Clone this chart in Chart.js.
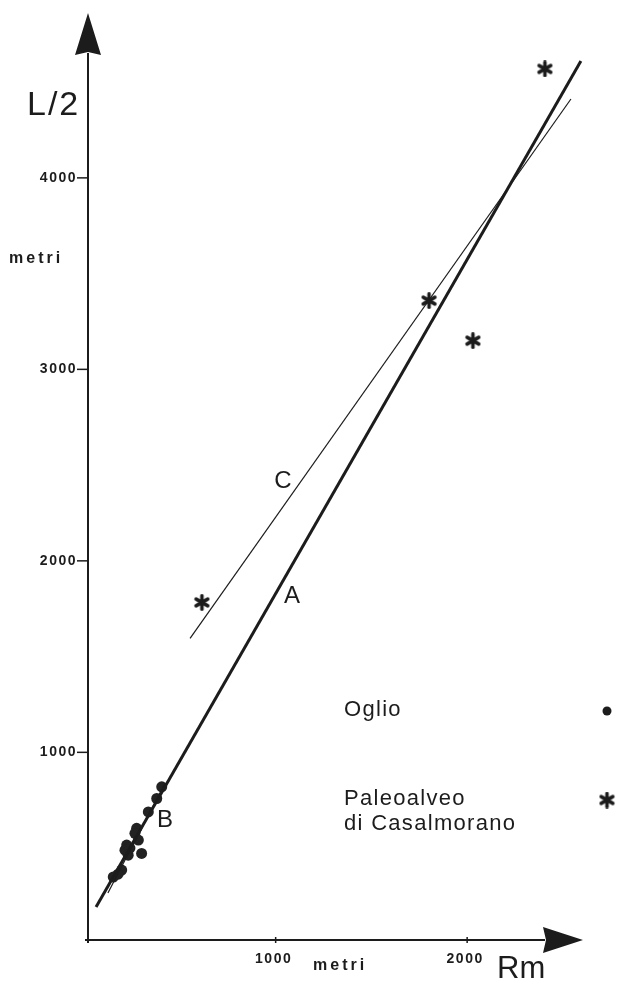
<!DOCTYPE html>
<html>
<head>
<meta charset="utf-8">
<script src="https://cdn.jsdelivr.net/npm/chart.js@4"></script>
<style>
  body { margin: 0; background: #fff; }
  #wrap { width: 618px; height: 981px; position: relative; }
</style>
</head>
<body>
<div id="wrap"><canvas id="rmChart"></canvas></div>
<script>
// Oglio: meander radius Rm vs half wavelength L/2 (metri)
var oglioRm = [405, 379, 335, 274, 265, 283, 222, 213, 230, 300, 239, 196, 177, 152];
var oglioL2 = [820, 759, 689, 603, 577, 542, 516, 489, 463, 472, 500, 385, 364, 349];

// Paleoalveo di Casalmorano
var paleoRm = [2406, 1801, 2030, 615];
var paleoL2 = [4569, 3359, 3150, 1783];

// fitted lines (end points)
var lineA_Rm = [62, 2594];
var lineA_L2 = [192, 4610];
var lineC_Rm = [553, 2542];
var lineC_L2 = [1595, 4412];
var lineB_Rm = [124, 422];
var lineB_L2 = [265, 839];

var xTicks = [1000, 2000];
var yTicks = [1000, 2000, 3000, 4000];

var ink = '#1c1c1c';

function pts(xs, ys) {
    return xs.map(function (x, i) { return { x: x, y: ys[i] }; });
}

// asterisk marker
function makeStar(size, lw) {
    var c = document.createElement('canvas');
    c.width = size; c.height = size;
    var g = c.getContext('2d');
    var r = size / 2 - lw / 2;
    g.strokeStyle = ink;
    g.lineWidth = lw;
    g.lineCap = 'round';
    g.translate(size / 2, size / 2);
    for (var k = 0; k < 3; k++) {
        var a = Math.PI / 2 + k * Math.PI / 3;
        g.beginPath();
        g.moveTo(Math.cos(a) * r, Math.sin(a) * r);
        g.lineTo(-Math.cos(a) * r, -Math.sin(a) * r);
        g.stroke();
    }
    return c;
}
var star = makeStar(17, 3.5);

var axesPlugin = {
    id: 'axesPlugin',
    afterDatasetsDraw: function (chart) {
        var ctx = chart.ctx;
        var xs = chart.scales.x, ys = chart.scales.y;
        var ox = xs.getPixelForValue(xs.min);
        var oy = ys.getPixelForValue(ys.min);
        var right = chart.chartArea.right, top = chart.chartArea.top;
        ctx.save();
        ctx.strokeStyle = ink;
        ctx.fillStyle = ink;
        ctx.lineWidth = 2;
        // axis lines
        ctx.beginPath();
        ctx.moveTo(ox, oy + 3); ctx.lineTo(ox, top + 40);
        ctx.moveTo(ox - 3, oy); ctx.lineTo(right - 38, oy);
        ctx.stroke();
        // arrow heads
        ctx.beginPath();
        ctx.moveTo(ox, top); ctx.lineTo(ox - 13, top + 42); ctx.lineTo(ox, top + 39); ctx.lineTo(ox + 13, top + 42);
        ctx.closePath(); ctx.fill();
        ctx.beginPath();
        ctx.moveTo(right, oy); ctx.lineTo(right - 40, oy - 13); ctx.lineTo(right - 37, oy); ctx.lineTo(right - 40, oy + 13);
        ctx.closePath(); ctx.fill();

        // ticks and labels
        ctx.lineWidth = 1.5;
        ctx.font = 'bold 14px "Liberation Sans", Arial, sans-serif';
        ctx.letterSpacing = '1.5px';
        ctx.textBaseline = 'middle';
        ctx.textAlign = 'right';
        yTicks.forEach(function (v) {
            var p = ys.getPixelForValue(v);
            ctx.beginPath(); ctx.moveTo(ox - 11, p); ctx.lineTo(ox, p); ctx.stroke();
            ctx.fillText(String(v), ox - 11, p);
        });
        ctx.textAlign = 'center';
        xTicks.forEach(function (v) {
            var p = xs.getPixelForValue(v);
            ctx.beginPath(); ctx.moveTo(p, oy - 3); ctx.lineTo(p, oy + 3); ctx.stroke();
            ctx.fillText(String(v), p - 2, oy + 19);
        });

        // axis units
        ctx.font = 'bold 16px "Liberation Sans", Arial, sans-serif';
        ctx.letterSpacing = '3px';
        ctx.textAlign = 'left';
        ctx.fillText('metri', 9, 259);
        ctx.fillText('metri', 313, 966);

        // axis titles
        ctx.font = '34px "Liberation Sans", Arial, sans-serif';
        ctx.letterSpacing = '2px';
        ctx.textBaseline = 'alphabetic';
        ctx.fillText('L/2', 27, 115);
        ctx.font = '31px "Liberation Sans", Arial, sans-serif';
        ctx.letterSpacing = '0px';
        ctx.fillText('Rm', 497, 978);

        // line labels, placed in data space
        ctx.font = '24px "Liberation Sans", Arial, sans-serif';
        ctx.textAlign = 'center';
        ctx.textBaseline = 'middle';
        ctx.fillText('C', xs.getPixelForValue(1038), ys.getPixelForValue(2414));
        ctx.fillText('A', xs.getPixelForValue(1085), ys.getPixelForValue(1814));
        ctx.fillText('B', xs.getPixelForValue(422), ys.getPixelForValue(646));

        // legend
        ctx.font = '22px "Liberation Sans", Arial, sans-serif';
        ctx.letterSpacing = '1.3px';
        ctx.textAlign = 'left';
        ctx.fillText('Oglio', 344, 710);
        ctx.fillText('Paleoalveo', 344, 799);
        ctx.fillText('di Casalmorano', 344, 824);
        ctx.beginPath(); ctx.arc(607, 711, 4.5, 0, Math.PI * 2); ctx.fill();
        ctx.drawImage(star, 607 - 8.5, 800 - 8.5);
        ctx.restore();
    }
};

var ctx = document.getElementById('rmChart').getContext('2d');
var chart = new Chart(ctx, {
    type: 'scatter',
    data: {
        datasets: [{
            label: 'A',
            data: pts(lineA_Rm, lineA_L2),
            showLine: true,
            borderColor: ink,
            borderWidth: 3,
            pointRadius: 0
        },
        {
            label: 'C',
            data: pts(lineC_Rm, lineC_L2),
            showLine: true,
            borderColor: ink,
            borderWidth: 1.2,
            pointRadius: 0
        },
        {
            label: 'B',
            data: pts(lineB_Rm, lineB_L2),
            showLine: true,
            borderColor: ink,
            borderWidth: 1.2,
            pointRadius: 0
        },
        {
            label: 'Oglio',
            data: pts(oglioRm, oglioL2),
            backgroundColor: '#222',
            borderColor: '#222',
            pointRadius: 5.5,
            borderWidth: 0
        },
        {
            label: 'Paleoalveo di Casalmorano',
            data: pts(paleoRm, paleoL2),
            pointStyle: star,
            pointRadius: 8
        }]
    },
    options: {
        responsive: true,
        maintainAspectRatio: false,
        animation: false,
        layout: { padding: { left: 88, right: 35, top: 13, bottom: 41 } },
        scales: {
            x: { type: 'linear', min: 20, max: 2605, display: false },
            y: { type: 'linear', min: 20, max: 4861, display: false }
        },
        plugins: {
            legend: { display: false },
            tooltip: { enabled: false }
        }
    },
    plugins: [axesPlugin]
});
</script>
</body>
</html>
